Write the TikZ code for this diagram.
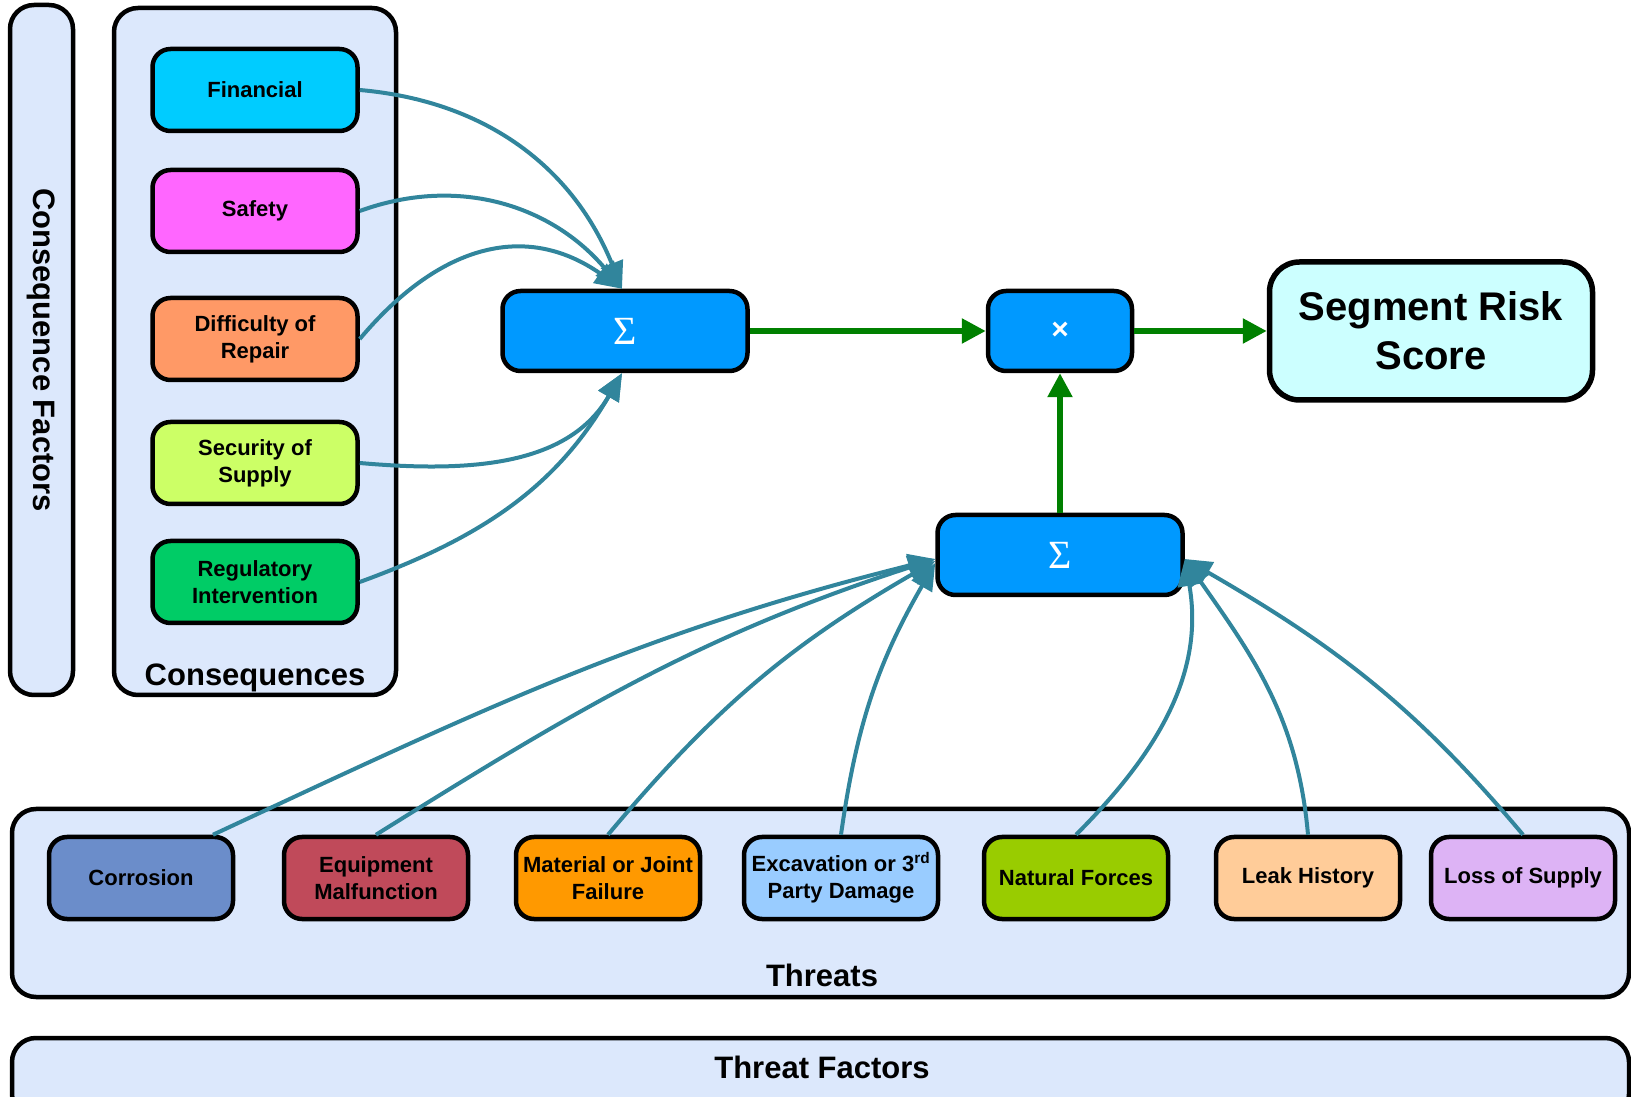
\documentclass[tikz,border=0pt]{standalone}
\usepackage{fontspec}
\setmainfont{Liberation Sans}
\newfontfamily\symbolfont{Liberation Serif}
\usetikzlibrary{arrows.meta}

\definecolor{panelblue}{HTML}{DCE8FC}
\definecolor{linkteal}{HTML}{31859C}
\definecolor{flowgreen}{HTML}{008000}
\definecolor{sumblue}{HTML}{0099FF}

\tikzset{
  every picture/.style={/utils/exec={\bfseries}},
  panel/.style={draw, fill=panelblue, line width=4.5pt, rounded corners=24pt},
  factor/.style={draw, line width=4.5pt, rounded corners=18pt, align=center,
    minimum width=205pt, minimum height=82pt, inner xsep=2pt,
    font=\fontsize{22}{27}\selectfont\bfseries},
  threat/.style={factor, minimum width=184pt},
  op/.style={draw, fill=sumblue, line width=4.5pt, rounded corners=18pt,
    minimum height=80pt, text=white},
  link/.style={draw=linkteal, line width=4pt, -{Triangle[length=27pt,width=23pt]}},
  flow/.style={draw=flowgreen, line width=5.5pt, -{Triangle[length=24pt,width=24pt]}}
}

\begin{document}
\begin{tikzpicture}[x=1pt, y=1pt]
  \useasboundingbox (0,0) rectangle (1631,1096);
  \clip (0,0) rectangle (1631,1096);

  % side bars and containers
  \node [panel, rotate=-90, minimum width=690pt, minimum height=63pt,
    font=\fontsize{31}{36}\selectfont\bfseries] (cfbar) at (41.5,746) {Consequence Factors};
  \node [panel, minimum width=282pt, minimum height=687pt] (conbox) at (255,744.5) {};
  \node [font=\fontsize{31}{36}\selectfont\bfseries] (conlabel) at (255,418) {Consequences};
  \node [panel, minimum width=1617pt, minimum height=188pt] (thrbox) at (820.5,193) {};
  \node [font=\fontsize{31}{36}\selectfont\bfseries] (thrlabel) at (822,121) {Threats};
  \node [panel, minimum width=1617pt, minimum height=80pt] (tfbar) at (820.5,18) {};
  \node [font=\fontsize{31}{36}\selectfont\bfseries] (tflabel) at (822,29) {Threat Factors};

  % consequences
  \node [factor, fill={rgb,255:red,0;green,204;blue,255}] (fin) at (255,1006) {Financial};
  \node [factor, fill={rgb,255:red,255;green,102;blue,255}] (safe) at (255,885) {Safety};
  \node [factor, fill={rgb,255:red,255;green,153;blue,102}] (diff) at (255,757) {Difficulty of\\Repair};
  \node [factor, fill={rgb,255:red,204;green,255;blue,102}] (secu) at (255,633) {Security of\\Supply};
  \node [factor, fill={rgb,255:red,0;green,204;blue,102}] (regu) at (255,514) {Regulatory\\Intervention};

  % threats
  \node [threat, fill={rgb,255:red,107;green,141;blue,202}] (corr) at (141,218) {Corrosion};
  \node [threat, fill={rgb,255:red,192;green,74;blue,90}] (equip) at (376,218) {Equipment\\Malfunction};
  \node [threat, fill={rgb,255:red,255;green,153;blue,0}] (mat) at (608,218) {Material or Joint\\Failure};
  \node [threat, minimum width=194pt, fill={rgb,255:red,153;green,204;blue,255}] (exc) at (841,218)
    {Excavation or 3\textsuperscript{rd}\\Party Damage};
  \node [threat, fill={rgb,255:red,153;green,204;blue,0}] (nat) at (1076,218) {Natural Forces};
  \node [threat, fill={rgb,255:red,255;green,204;blue,153}] (leak) at (1308,218) {Leak History};
  \node [threat, fill={rgb,255:red,221;green,179;blue,245}] (loss) at (1523,218) {Loss of Supply};

  % operators and result
  \node [op, minimum width=245pt, font=\fontsize{40}{44}\symbolfont\mdseries] (sum1) at (625,765) {Σ};
  \node [op, minimum width=144pt, font=\fontsize{30}{34}\selectfont\bfseries] (times) at (1060,765) {×};
  \node [op, minimum width=245pt, font=\fontsize{40}{44}\symbolfont\mdseries] (sum2) at (1060,541) {Σ};
  \node [draw, fill={rgb,255:red,204;green,255;blue,255}, line width=5.5pt, rounded corners=30pt,
    minimum width=323pt, minimum height=138pt, align=center,
    font=\fontsize{40}{49}\selectfont\bfseries] (score) at (1431,765) {Segment Risk\\Score};

  % consequence links
  \draw [link] (fin.east) to[out=-5, in=112] ([xshift=-3pt]sum1.north);
  \draw [link] (safe.east) to[out=20, in=130] ([xshift=-3pt]sum1.north);
  \draw [link] (diff.east) to[out=50, in=145, looseness=1.15] ([xshift=-3pt]sum1.north);
  \draw [link] (secu.east) to[out=-5, in=240] ([xshift=-3pt]sum1.south);
  \draw [link] (regu.east) to[out=20, in=240] ([xshift=-3pt]sum1.south);

  % threat links
  \draw [link] ([xshift=72pt]corr.north) to[out=25, in=194] ([yshift=-4pt]sum2.west);
  \draw [link] (equip.north) to[out=32, in=198] ([yshift=-4pt]sum2.west);
  \draw [link] (mat.north) to[out=50, in=210] ([yshift=-6pt]sum2.west);
  \draw [link] (exc.north) to[out=82, in=240] ([yshift=-8pt]sum2.west);
  \draw [link] (nat.north) to[out=45, in=-80] ([yshift=-4pt]sum2.east);
  \draw [link] (leak.north) to[out=95, in=-55] ([yshift=-4pt]sum2.east);
  \draw [link] (loss.north) to[out=130, in=-30] ([yshift=-4pt]sum2.east);

  % main flow
  \draw [flow] (sum1) -- (times);
  \draw [flow] (times) -- (score);
  \draw [flow] (sum2) -- (times);
\end{tikzpicture}
\end{document}
